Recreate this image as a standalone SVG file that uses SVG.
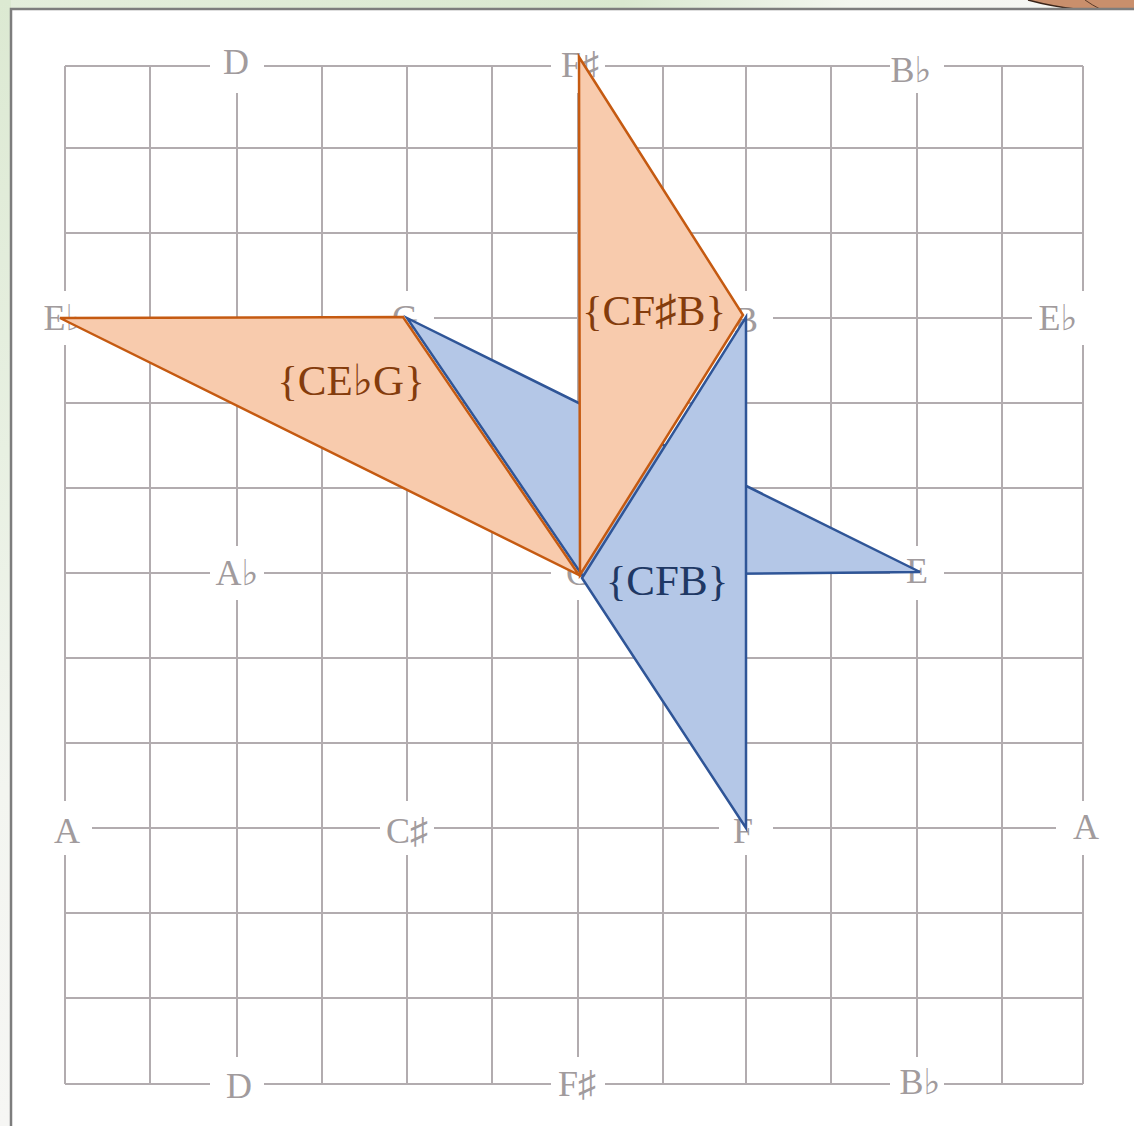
<svg xmlns="http://www.w3.org/2000/svg" width="1134" height="1126" viewBox="0 0 1134 1126">
  <defs>
    <linearGradient id="gTop" x1="0" y1="0" x2="1" y2="0">
      <stop offset="0" stop-color="#e4eedc"/>
      <stop offset="0.55" stop-color="#d9e8cf"/>
      <stop offset="0.75" stop-color="#f3f6ef"/>
      <stop offset="1" stop-color="#f7f7f4"/>
    </linearGradient>
    <linearGradient id="gLeft" x1="0" y1="0" x2="0" y2="1">
      <stop offset="0" stop-color="#dce9d2"/>
      <stop offset="0.4" stop-color="#e8f0e2"/>
      <stop offset="0.7" stop-color="#f3f5f0"/>
      <stop offset="1" stop-color="#f6f6f4"/>
    </linearGradient>
    <style>
      .grid { stroke: #b2acaf; stroke-width: 2; fill: none; }
      .note { font-family: "Liberation Serif", "DejaVu Serif", serif; font-size: 36px; fill: #a19b9d; text-anchor: middle; }
      .tri-o { fill: #f8cbad; stroke: #c55a11; stroke-width: 2.5; stroke-linejoin: miter; }
      .tri-b { fill: #b4c7e7; stroke: #2f5597; stroke-width: 2.5; stroke-linejoin: miter; }
      .lab { font-family: "Liberation Serif", "DejaVu Serif", serif; font-size: 43px; text-anchor: middle; }
      .lab-o { fill: #843c0c; }
      .lab-b { fill: #1f3864; }
    </style>
  </defs>

  <!-- outside background -->
  <rect x="0" y="0" width="1134" height="1126" fill="#f6f6f3"/>
  <rect x="0" y="0" width="1134" height="9" fill="url(#gTop)"/>
  <rect x="0" y="0" width="11" height="1126" fill="url(#gLeft)"/>
  <path d="M1028 0 Q1050 6 1075 9 L1134 9 L1134 0 Z" fill="#c98f6c"/>
  <path d="M1028 0 Q1050 6 1075 9" fill="none" stroke="#3a2418" stroke-width="1.5"/>
  <path d="M1085 0 Q1092 5 1100 9" fill="none" stroke="#5a3a28" stroke-width="1"/>

  <!-- frame -->
  <rect x="11" y="9" width="1200" height="1200" fill="#ffffff" stroke="#7d7d7d" stroke-width="2.5"/>

  <!-- grid lines -->
  <g id="connectors">
    <path class="grid" d="
      M65 66H210 M264 66H551 M605 66H890 M944 66H1083
      M65 148H1083
      M65 233H1083
      M92 318H380 M434 318H719 M773 318H1032
      M65 403H1083
      M65 488H1083
      M65 573H210 M264 573H551 M605 573H890 M944 573H1083
      M65 658H1083
      M65 743H1083
      M92 828H380 M434 828H719 M773 828H1056
      M65 913H1083
      M65 998H1083
      M65 1084H210 M264 1084H551 M605 1084H890 M944 1084H1083"/>
    <path class="grid" d="
      M65 66V291 M65 345V801 M65 855V1084
      M150 66V1084
      M237 93V546 M237 600V1057
      M322 66V1084
      M407 66V291 M407 345V801 M407 855V1084
      M492 66V1084
      M578 93V546 M578 600V1057
      M663 66V1084
      M746 66V291 M746 345V801 M746 855V1084
      M831 66V1084
      M917 93V546 M917 600V1057
      M1002 66V1084
      M1083 66V291 M1083 345V801 M1083 855V1084"/>
  </g>

  <!-- note labels -->
  <g id="notes">
    <text class="note" x="236" y="74">D</text>
    <text class="note" x="580" y="77">F♯</text>
    <text class="note" x="911" y="82">B♭</text>
    <text class="note" x="63" y="330">E♭</text>
    <text class="note" x="405" y="330">G</text>
    <text class="note" x="746" y="332">B</text>
    <text class="note" x="1058" y="330">E♭</text>
    <text class="note" x="237" y="585">A♭</text>
    <text class="note" x="578" y="585">C</text>
    <text class="note" x="917" y="583">E</text>
    <text class="note" x="67" y="843">A</text>
    <text class="note" x="407" y="843">C♯</text>
    <text class="note" x="743" y="843">F</text>
    <text class="note" x="1086" y="839">A</text>
    <text class="note" x="239" y="1098">D</text>
    <text class="note" x="577" y="1096">F♯</text>
    <text class="note" x="920" y="1094">B♭</text>
  </g>

  <!-- triads -->
  <g id="tri-CEG">
    <polygon class="tri-b" points="407,318 920,572 582,575"/>
  </g>
  <g id="tri-CEbG">
    <polygon class="tri-o" points="60,318 403,317 579,575"/>
    <text class="lab lab-o" x="351" y="395">{CE♭G}</text>
  </g>
  <g id="tri-CFsB">
    <polygon class="tri-o" points="579,57 743,315 580,575"/>
    <text class="lab lab-o" x="654" y="325">{CF♯B}</text>
  </g>
  <g id="tri-CFB">
    <polygon class="tri-b" points="582,578 746,828 746,317"/>
    <text class="lab lab-b" x="667" y="595">{CFB}</text>
  </g>
</svg>
